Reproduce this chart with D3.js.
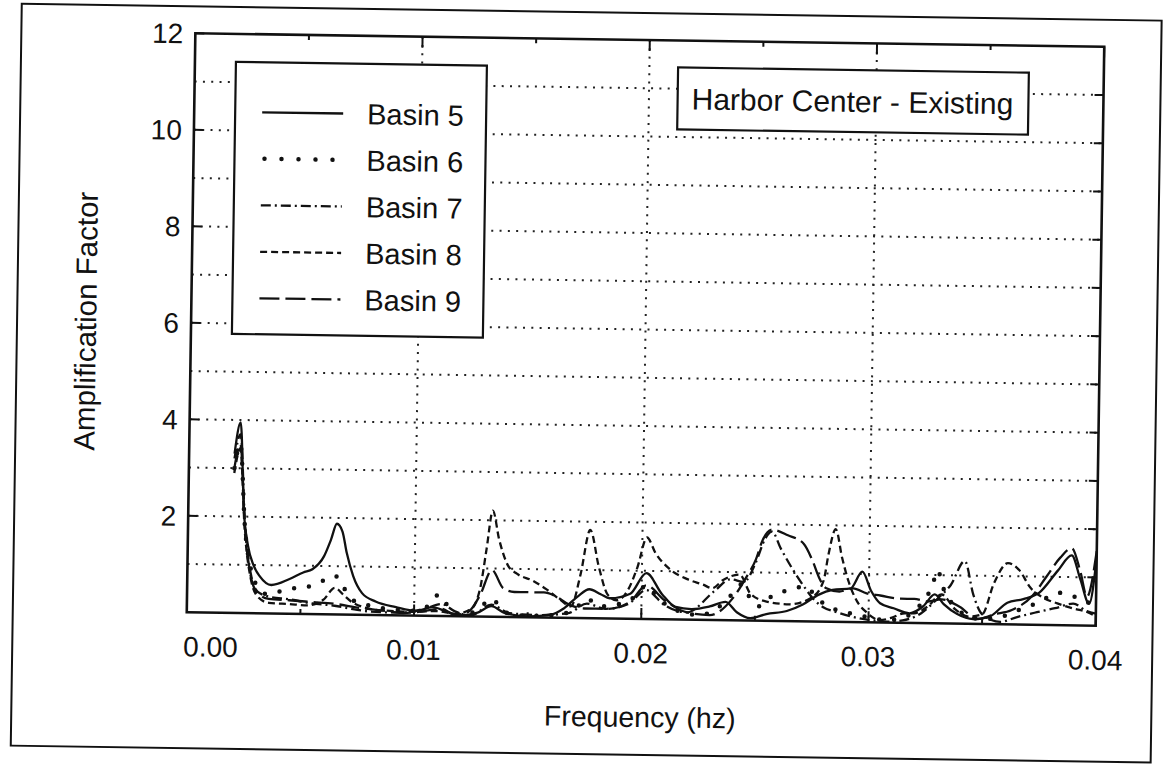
<!DOCTYPE html>
<html><head><meta charset="utf-8">
<script src="https://cdn.jsdelivr.net/npm/d3@7"></script>
<style>
html,body{margin:0;padding:0;background:#fff;}
text{font-family:Arial,"Liberation Sans",Helvetica,sans-serif;fill:#111;}
</style></head>
<body>
<svg id="chart" width="1170" height="772"></svg>
<script>
// ---------- data (frequency in Hz, amplification factor) ----------
const seriesNames = ["Basin 5","Basin 6","Basin 7","Basin 8","Basin 9"];
const titleText = "Harbor Center - Existing";
const xLabel = "Frequency (hz)";
const yLabel = "Amplification Factor";
const xTickValues = [0, 0.01, 0.02, 0.03, 0.04];
const xTickLabels = ["0.00","0.01","0.02","0.03","0.04"];
const yTickValues = [2, 4, 6, 8, 10, 12];
const yTickLabels = ["2","4","6","8","10","12"];

const basin5 = [[0.0020,3.3],[0.00225,3.95],[0.00245,2.1],[0.00265,1.4],[0.0029,1.0],[0.0032,0.76],[0.0037,0.59],[0.0045,0.72],[0.0051,0.86],[0.0055,0.93],[0.0060,1.2],[0.0063,1.55],[0.00655,1.88],[0.0068,1.72],[0.0070,1.28],[0.0073,0.8],[0.0077,0.45],[0.0083,0.28],[0.0092,0.17],[0.0101,0.1],[0.0108,0.18],[0.0114,0.1],[0.0120,0.02],[0.0128,0.08],[0.0134,0.22],[0.0140,0.08],[0.0150,0.02],[0.0160,0.06],[0.0166,0.2],[0.0172,0.45],[0.0177,0.6],[0.0182,0.5],[0.0186,0.42],[0.0195,0.52],[0.0202,0.95],[0.0209,0.52],[0.0215,0.26],[0.0222,0.22],[0.0230,0.28],[0.0237,0.38],[0.0242,0.17],[0.0248,0.05],[0.0255,0.14],[0.0264,0.21],[0.0271,0.35],[0.0278,0.56],[0.0284,0.66],[0.0292,0.7],[0.0297,1.05],[0.0301,0.65],[0.0305,0.4],[0.0311,0.3],[0.0318,0.2],[0.0324,0.35],[0.0329,0.6],[0.0333,0.4],[0.0339,0.2],[0.0346,0.1],[0.0353,0.15],[0.0361,0.45],[0.0368,0.53],[0.0375,0.67],[0.0383,1.13],[0.0389,1.45],[0.0393,0.95],[0.0397,0.45],[0.0400,1.4]];
const basin6 = [[0.0020,3.0],[0.00225,3.5],[0.0025,1.8],[0.0028,0.9],[0.0031,0.55],[0.0035,0.4],[0.0040,0.45],[0.0045,0.52],[0.0052,0.55],[0.0060,0.7],[0.0065,0.8],[0.0069,0.55],[0.0073,0.3],[0.0080,0.2],[0.0090,0.12],[0.0100,0.1],[0.0106,0.2],[0.0111,0.45],[0.0115,0.2],[0.0120,0.05],[0.0127,0.1],[0.0134,0.37],[0.0140,0.1],[0.0150,0.03],[0.0160,0.05],[0.0170,0.15],[0.0176,0.4],[0.0182,0.25],[0.0190,0.3],[0.0198,0.5],[0.0202,0.7],[0.0207,0.45],[0.0215,0.2],[0.0225,0.1],[0.0232,0.2],[0.0240,0.55],[0.0244,0.75],[0.0248,0.45],[0.0252,0.3],[0.0257,0.5],[0.0265,0.65],[0.0272,0.72],[0.0278,0.45],[0.0284,0.28],[0.0290,0.2],[0.0296,0.15],[0.0300,0.1],[0.0308,0.05],[0.0315,0.1],[0.0323,0.4],[0.0328,0.8],[0.0330,1.1],[0.0333,0.7],[0.0338,0.35],[0.0342,0.2],[0.0350,0.1],[0.0358,0.15],[0.0366,0.3],[0.0374,0.45],[0.0384,0.67],[0.0390,0.6],[0.0396,0.5],[0.0400,0.25]];
const basin7 = [[0.0020,3.2],[0.00225,3.7],[0.0025,1.9],[0.0028,0.8],[0.0031,0.45],[0.0036,0.35],[0.0045,0.3],[0.0055,0.22],[0.0065,0.18],[0.0075,0.1],[0.0085,0.06],[0.0095,0.06],[0.0105,0.15],[0.0112,0.25],[0.0118,0.1],[0.0125,0.02],[0.0134,0.25],[0.0142,0.08],[0.0155,0.05],[0.0168,0.1],[0.0176,0.3],[0.0184,0.2],[0.0194,0.3],[0.0202,0.6],[0.0210,0.3],[0.0220,0.15],[0.0232,0.6],[0.0239,0.85],[0.0245,0.8],[0.0250,1.2],[0.0254,1.7],[0.0257,1.85],[0.0261,1.5],[0.0266,1.1],[0.0271,0.75],[0.0276,0.45],[0.0280,0.3],[0.0286,0.2],[0.0294,0.1],[0.0300,0.05],[0.0308,0.02],[0.0315,0.05],[0.0323,0.2],[0.0330,0.5],[0.0336,0.8],[0.0342,1.3],[0.0346,0.6],[0.0350,0.2],[0.0358,0.05],[0.0365,0.15],[0.0373,0.25],[0.0382,0.35],[0.0390,0.45],[0.0396,0.3],[0.0400,0.25]];
const basin8 = [[0.0020,2.9],[0.00225,3.4],[0.0025,1.7],[0.0028,0.7],[0.0031,0.35],[0.0036,0.22],[0.0045,0.2],[0.0053,0.18],[0.0060,0.3],[0.0065,0.55],[0.0069,0.4],[0.0073,0.25],[0.0085,0.1],[0.0100,0.08],[0.0110,0.1],[0.0118,0.05],[0.0125,0.15],[0.0129,0.6],[0.01315,1.4],[0.0134,2.2],[0.0137,1.6],[0.0141,1.07],[0.0145,0.9],[0.0152,0.76],[0.0158,0.59],[0.0164,0.38],[0.0169,0.24],[0.0173,0.9],[0.0177,1.83],[0.0181,1.07],[0.0185,0.5],[0.0189,0.38],[0.0194,0.6],[0.0198,1.07],[0.0202,1.69],[0.0206,1.36],[0.0212,1.05],[0.0220,0.84],[0.0227,0.73],[0.0231,0.66],[0.0236,0.84],[0.0243,0.95],[0.0248,0.55],[0.0255,0.4],[0.0265,0.35],[0.0275,0.5],[0.0280,0.85],[0.0282,1.4],[0.0285,1.92],[0.0288,1.33],[0.0291,0.84],[0.0295,0.42],[0.0299,0.21],[0.0305,0.05],[0.0310,0.1],[0.0316,0.2],[0.0320,0.2],[0.0326,0.35],[0.0332,0.6],[0.0338,0.3],[0.0344,0.15],[0.0350,0.2],[0.0355,0.85],[0.0361,1.27],[0.0366,1.13],[0.0371,0.77],[0.0377,0.56],[0.0383,0.45],[0.0390,0.35],[0.0395,0.3],[0.0400,0.2]];
const basin9 = [[0.0020,3.0],[0.00225,3.5],[0.0025,1.8],[0.0028,0.75],[0.0031,0.42],[0.0036,0.3],[0.0045,0.28],[0.0055,0.25],[0.0065,0.22],[0.0075,0.15],[0.0085,0.1],[0.0095,0.05],[0.0105,0.1],[0.0112,0.15],[0.0118,0.03],[0.0124,0.1],[0.0129,0.45],[0.0134,0.97],[0.0139,0.6],[0.0144,0.52],[0.0150,0.52],[0.0157,0.52],[0.0162,0.45],[0.0168,0.28],[0.0175,0.2],[0.0185,0.2],[0.0195,0.35],[0.0202,0.7],[0.0210,0.4],[0.0220,0.15],[0.0230,0.1],[0.0240,0.45],[0.0246,0.9],[0.0250,1.26],[0.0253,1.68],[0.0257,1.89],[0.0264,1.78],[0.0271,1.61],[0.0275,1.26],[0.0278,0.91],[0.0281,0.7],[0.0287,0.63],[0.0293,0.7],[0.0299,0.6],[0.0305,0.56],[0.0314,0.5],[0.0320,0.5],[0.0326,0.45],[0.0332,0.5],[0.0340,0.35],[0.0348,0.1],[0.0355,0.2],[0.0363,0.3],[0.0372,0.6],[0.0378,1.0],[0.0384,1.4],[0.0389,1.6],[0.0393,1.1],[0.0396,0.6],[0.0400,1.55]];

const allSeries = [basin5, basin6, basin7, basin8, basin9];
const dashStyles = [null, "0,15", "10,4,2,4", "7,4", "20,6"];

// ---------- layout ----------
const L = 191, R = 1100, T = 40, B = 619;
const svg = d3.select("#chart");
const root = svg.append("g").attr("transform", "rotate(0.85,645,330)");

const x = d3.scaleLinear().domain([0, 0.04]).range([L, R]);
const y = d3.scaleLinear().domain([0, 12]).range([B, T]);

// outer frame
root.append("rect").attr("x", 17).attr("y", 13).attr("width", 1140).attr("height", 742)
  .attr("fill", "none").attr("stroke", "#111").attr("stroke-width", 2);

// grid
const grid = root.append("g").attr("stroke", "#222").attr("stroke-width", 2)
  .attr("stroke-dasharray", "2,6.3");
d3.range(1, 12).forEach(v => {
  grid.append("line").attr("x1", L).attr("x2", R).attr("y1", y(v)).attr("y2", y(v));
});
[0.01, 0.02, 0.03].forEach(v => {
  grid.append("line").attr("x1", x(v)).attr("x2", x(v)).attr("y1", T).attr("y2", B);
});

// ticks
const tk = root.append("g").attr("stroke", "#111").attr("stroke-width", 2);
d3.range(0.005, 0.04, 0.005).forEach((v, i) => {
  const len = (i % 2 === 1) ? 11 : 5;
  tk.append("line").attr("x1", x(v)).attr("x2", x(v)).attr("y1", T).attr("y2", T + len);
  tk.append("line").attr("x1", x(v)).attr("x2", x(v)).attr("y1", B).attr("y2", B - len);
});
yTickValues.forEach(v => {
  tk.append("line").attr("x1", L).attr("x2", L + 9).attr("y1", y(v)).attr("y2", y(v));
});
d3.range(1, 12).forEach(v => {
  tk.append("line").attr("x1", R).attr("x2", R - 9).attr("y1", y(v)).attr("y2", y(v));
});

// curves
const line = d3.line().x(d => x(d[0])).y(d => y(d[1])).curve(d3.curveMonotoneX);
root.append("clipPath").attr("id", "pc").append("rect")
  .attr("x", L).attr("y", T).attr("width", R - L).attr("height", B - T);
const curves = root.append("g").attr("clip-path", "url(#pc)");
allSeries.forEach((s, i) => {
  const p = curves.append("path").attr("d", line(s)).attr("fill", "none")
    .attr("stroke", "#111").attr("stroke-width", i === 1 ? 4.5 : 2.3)
    .attr("stroke-linejoin", "round");
  if (dashStyles[i]) p.attr("stroke-dasharray", dashStyles[i]);
  if (i === 1) p.attr("stroke-linecap", "round");
});

// plot frame
root.append("rect").attr("x", L).attr("y", T).attr("width", R - L).attr("height", B - T)
  .attr("fill", "none").attr("stroke", "#111").attr("stroke-width", 2.6);

// axis tick labels
yTickValues.forEach((v, i) => {
  root.append("text").attr("x", L - 12).attr("y", y(v)).attr("dy", "0.36em")
    .attr("text-anchor", "end").attr("font-size", 28).text(yTickLabels[i]);
});
xTickValues.forEach((v, i) => {
  root.append("text").attr("x", i === 0 ? x(v) - 3 : x(v)).attr("y", B + 44)
    .attr("text-anchor", i === 0 ? "start" : "middle").attr("font-size", 28).text(xTickLabels[i]);
});
root.append("text").attr("x", (L + R) / 2).attr("y", 727).attr("text-anchor", "middle")
  .attr("font-size", 28.5).text(xLabel);
root.append("text").attr("transform", `translate(96,${(T + B) / 2}) rotate(-90)`)
  .attr("text-anchor", "middle").attr("font-size", 29.5).text(yLabel);

// legend
const lg = root.append("g");
lg.append("rect").attr("x", 232).attr("y", 68).attr("width", 251).attr("height", 272)
  .attr("fill", "#fff").attr("stroke", "#111").attr("stroke-width", 2.2);
seriesNames.forEach((name, i) => {
  const cy = 118 + i * 46.5;
  const ln = lg.append("line").attr("x1", 259).attr("x2", 340).attr("y1", cy).attr("y2", cy)
    .attr("stroke", "#111").attr("stroke-width", i === 1 ? 4.5 : 2.3);
  if (dashStyles[i]) ln.attr("stroke-dasharray", i === 1 ? "0,17" : dashStyles[i]);
  if (i === 1) ln.attr("stroke-linecap", "round").attr("x1", 262);
  lg.append("text").attr("x", 364).attr("y", cy).attr("dy", "0.36em")
    .attr("font-size", 29).text(name);
});

// title box (box sized around its text)
const tb = root.append("g");
const tRect = tb.append("rect").attr("y", 67).attr("height", 62)
  .attr("fill", "#fff").attr("stroke", "#111").attr("stroke-width", 2.2);
const tText = tb.append("text").attr("x", 1010).attr("y", 98).attr("dy", "0.36em")
  .attr("text-anchor", "end").attr("font-size", 30).text(titleText);
const tw = tText.node().getComputedTextLength();
tRect.attr("x", 1010 - tw - 14).attr("width", tw + 14 + 15);
</script>
</body></html>
